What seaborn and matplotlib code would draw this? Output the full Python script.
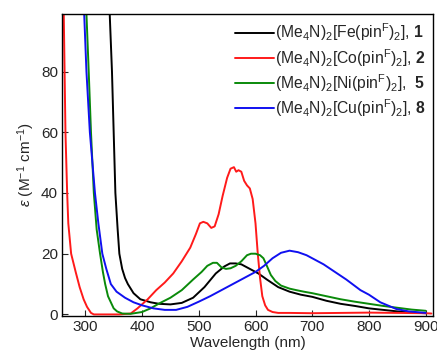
import matplotlib

matplotlib.use("Agg")
import matplotlib.pyplot as plt
import seaborn as sns

# --- data (wavelength in nm, epsilon in M^-1 cm^-1) ---
fe_wl = [338, 343, 347, 350, 353, 357, 360, 365, 370, 375, 385, 397, 415, 430,
         450, 470, 490, 510, 530, 545, 555, 565, 575, 590, 605, 620, 640, 660,
         680, 700, 725, 750, 775, 800, 825, 850, 875, 900]
fe_eps = [130, 99, 80, 60, 40, 28, 20, 15, 12, 10, 7, 5, 4, 3.5,
          3.3, 3.8, 5.5, 9, 13.5, 15.8, 16.8, 16.8, 16.5, 15, 13.5, 11.5, 9, 7.5,
          6.5, 5.8, 4.5, 3.5, 2.8, 2, 1.5, 1, 0.6, 0.4]

co_wl = [258, 262, 265, 268, 270, 275, 283, 290, 297, 303, 310, 315, 330, 360,
         380, 392, 410, 425, 440, 455, 470, 485, 495, 502, 508, 515, 522, 528,
         535, 542, 550, 556, 562, 566, 570, 575, 580, 585, 590, 595, 600, 604,
         608, 612, 617, 622, 630, 640, 660, 700, 750, 800, 850, 900, 910]
co_eps = [140, 99, 60, 40, 30, 20, 14, 9, 5, 2.5, 0.5, 0, 0, 0,
          0.3, 2, 5, 8, 10.5, 13.5, 17.5, 22, 26.5, 30, 30.5, 30, 28.5, 29,
          33, 39, 45, 48, 48.5, 47, 47.5, 47, 44, 42.5, 41.5, 38, 30, 20,
          12, 6, 3, 1.5, 0.8, 0.5, 0.5, 0.4, 0.5, 0.6, 0.5, 0.4, 0.3]

ni_wl = [298, 302, 306, 310, 315, 320, 326, 331, 335, 340, 345, 350, 356, 365,
         380, 400, 415, 430, 450, 470, 490, 505, 515, 525, 532, 540, 548, 556,
         565, 575, 585, 592, 600, 608, 614, 620, 627, 635, 645, 660, 672, 685,
         700, 725, 750, 775, 800, 825, 850, 875, 900]
ni_eps = [130, 99, 80, 60, 40, 28, 20, 14, 10, 6, 4, 2, 1, 0.3,
          0.2, 0.8, 2, 3.6, 5.5, 8, 11.5, 14, 16, 17, 17, 15.5, 15, 15.2,
          16, 17.5, 19.5, 20, 20, 19.5, 18.5, 16, 13, 11, 9.5, 8.5, 8, 7.5,
          7, 6, 5, 4.2, 3.5, 2.8, 2.2, 1.6, 1.2]

cu_wl = [294, 298, 302, 308, 317, 323, 330, 337, 345, 355, 370, 385, 400, 420,
         440, 460, 480, 500, 520, 540, 560, 580, 600, 615, 630, 645, 660, 675,
         690, 705, 720, 740, 760, 785, 800, 820, 848, 870, 900]
cu_eps = [130, 99, 80, 60, 40, 30, 20, 15, 10, 7.5, 5.5, 4, 3, 2,
          1.5, 1.5, 2.5, 4.2, 6, 8, 10, 12, 14, 16, 18.5, 20.3, 21, 20.5,
          19.5, 18, 16.5, 14, 11.5, 8, 6.5, 4, 1.8, 1, 0.5]

labels = [
    r"(Me$_4$N)$_2$[Fe(pin$^{\rm F}$)$_2$], $\mathbf{1}$",
    r"(Me$_4$N)$_2$[Co(pin$^{\rm F}$)$_2$], $\mathbf{2}$",
    r"(Me$_4$N)$_2$[Ni(pin$^{\rm F}$)$_2$],  $\mathbf{5}$",
    r"(Me$_4$N)$_2$[Cu(pin$^{\rm F}$)$_2$], $\mathbf{8}$",
]
colors = ["#000000", "#ff1a1a", "#0a8a0a", "#1010f0"]
x_ticks = [300, 400, 500, 600, 700, 800, 900]
y_ticks = [0, 20, 40, 60, 80]

sns.set_style("white")
plt.rcParams["font.family"] = ["Liberation Sans", "DejaVu Sans"]
plt.rcParams["mathtext.fontset"] = "custom"
plt.rcParams["mathtext.rm"] = "Liberation Sans"
plt.rcParams["mathtext.it"] = "Liberation Sans:italic"
plt.rcParams["mathtext.bf"] = "Liberation Sans:bold"

fig = plt.figure(figsize=(4.37, 3.64), dpi=100)
ax = fig.add_axes([0.142, 0.132, 0.849, 0.83])

series = [(fe_wl, fe_eps), (co_wl, co_eps), (ni_wl, ni_eps), (cu_wl, cu_eps)]
for (wl, eps), lab, col in zip(series, labels, colors):
    sns.lineplot(x=wl, y=eps, ax=ax, color=col, lw=1.4, label=lab, sort=False)

ax.set_xlim(259, 913)
ax.set_ylim(-0.5, 99)
ax.set_xticks(x_ticks)
ax.set_yticks(y_ticks)
ax.tick_params(direction="in", length=4, width=0.8, labelsize=11,
               bottom=True, left=True, top=False, right=False, pad=3)
for s in ax.spines.values():
    s.set_color("black")
    s.set_linewidth(1.0)

ax.set_xlabel("Wavelength (nm)", fontsize=11, labelpad=1)
ax.set_ylabel(r"$\it{\varepsilon}$ (M$^{-1}$ cm$^{-1}$)", fontsize=11, labelpad=3)

ax.legend(loc="upper right", frameon=False, fontsize=11.3, handlelength=2.5,
          handletextpad=0.05, labelspacing=0.22, borderaxespad=0.2,
          bbox_to_anchor=(1.005, 1.005))

fig.savefig("out.png", dpi=100)
